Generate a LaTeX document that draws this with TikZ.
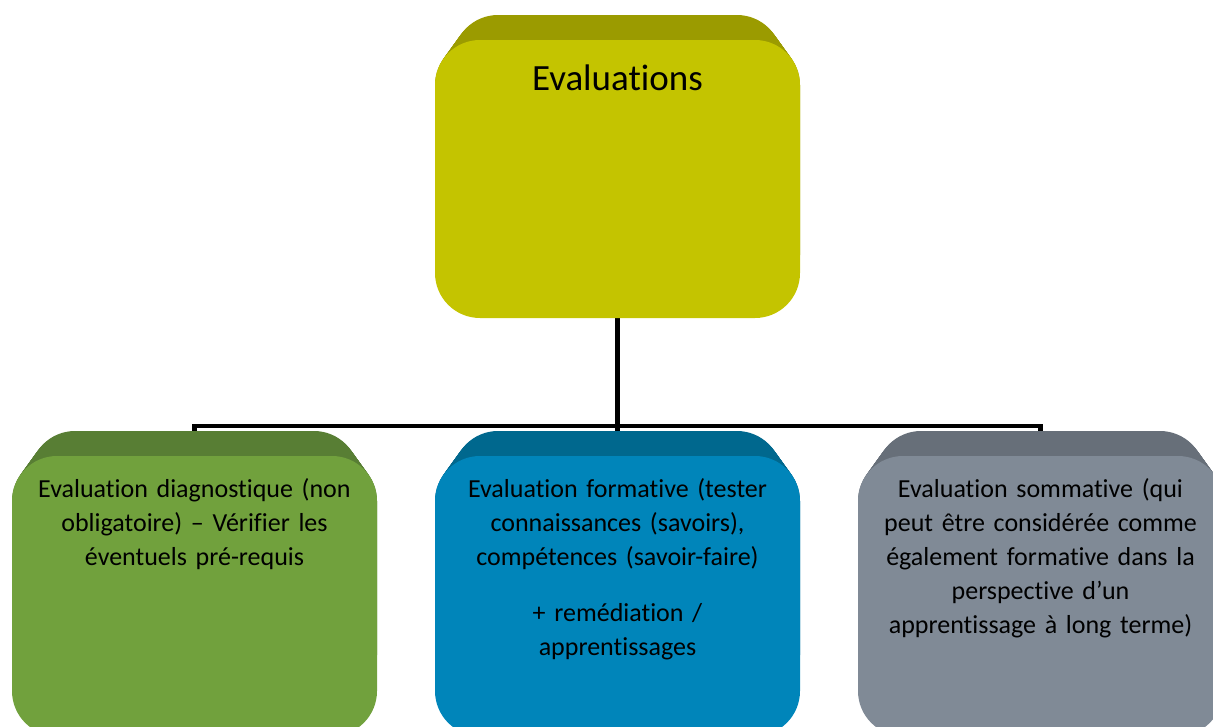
\documentclass[tikz,border=0pt]{standalone}
\usepackage{fontspec}
\setmainfont{Carlito}[Ligatures=NoCommon]
\usepackage{tikz}
\usetikzlibrary{backgrounds}

\definecolor{evalfront}{RGB}{196,196,0}
\definecolor{evaltop}{RGB}{155,155,0}
\definecolor{diagfront}{RGB}{113,161,61}
\definecolor{diagtop}{RGB}{88,126,52}
\definecolor{formfront}{RGB}{0,133,186}
\definecolor{formtop}{RGB}{0,104,142}
\definecolor{sommfront}{RGB}{128,138,150}
\definecolor{sommtop}{RGB}{103,111,121}

\tikzset{
    face/.style={rounded corners=45pt, inner sep=0pt, minimum width=365pt},
    boxtext/.style={anchor=base, inner sep=0pt, text width=360pt, align=center,
        font=\fontsize{26}{34}\selectfont},
    link/.style={line width=4.5pt, black},
}

% rear part of a box, swept from the back face to the front face
\newcommand{\boxback}[5]{%
    \foreach \k in {0,...,20}
        \fill[#5, rounded corners=45pt] ({#1+18-0.9*\k},{#2+1.25*\k}) rectangle ({#3-18+0.9*\k},{#4});
}

\begin{document}
\begin{tikzpicture}[x=1pt, y=-1pt]
    \useasboundingbox (0,0) rectangle (1213,726);
    \clip (0,0) rectangle (1213,726);

    % top box
    \boxback{435}{15}{800}{300}{evaltop}
    \node[face, fill=evalfront, minimum height=278pt] (eval) at (617.5,179) {};
    \node[anchor=base, inner sep=0pt, font=\fontsize{37}{44}\selectfont, yshift=-51pt] (eval-txt) at (eval.north) {Evaluations};

    % bottom boxes
    \boxback{12}{431}{377}{700}{diagtop}
    \node[face, fill=diagfront, minimum height=280pt] (diag) at (194.5,596) {};
    \node[boxtext, yshift=-42pt] (diag-txt) at (diag.north)
        {Evaluation diagnostique (non\\ obligatoire) -- Vérifier les\\ éventuels pré-requis};

    \boxback{435}{431}{800}{700}{formtop}
    \node[face, fill=formfront, minimum height=280pt] (form) at (617.5,596) {};
    \node[boxtext, yshift=-42pt] (form-txt) at (form.north)
        {Evaluation formative (tester\\ connaissances (savoirs),\\ compétences (savoir-faire)\\[22pt]
         + remédiation /\\ apprentissages};

    \boxback{858}{431}{1223}{700}{sommtop}
    \node[face, fill=sommfront, minimum height=280pt] (somm) at (1040.5,596) {};
    \node[boxtext, yshift=-42pt] (somm-txt) at (somm.north)
        {Evaluation sommative (qui\\ peut être considérée comme\\ également formative dans la\\ perspective d’un\\ apprentissage à long terme)};

    % connectors
    \begin{scope}[on background layer]
        \draw[link] (eval.south) -- ++(0,108) coordinate (hub);
        \draw[link] (diag.north) |- (hub) -| (somm.north);
        \draw[link] (hub) -- (form.north);
    \end{scope}
\end{tikzpicture}
\end{document}
